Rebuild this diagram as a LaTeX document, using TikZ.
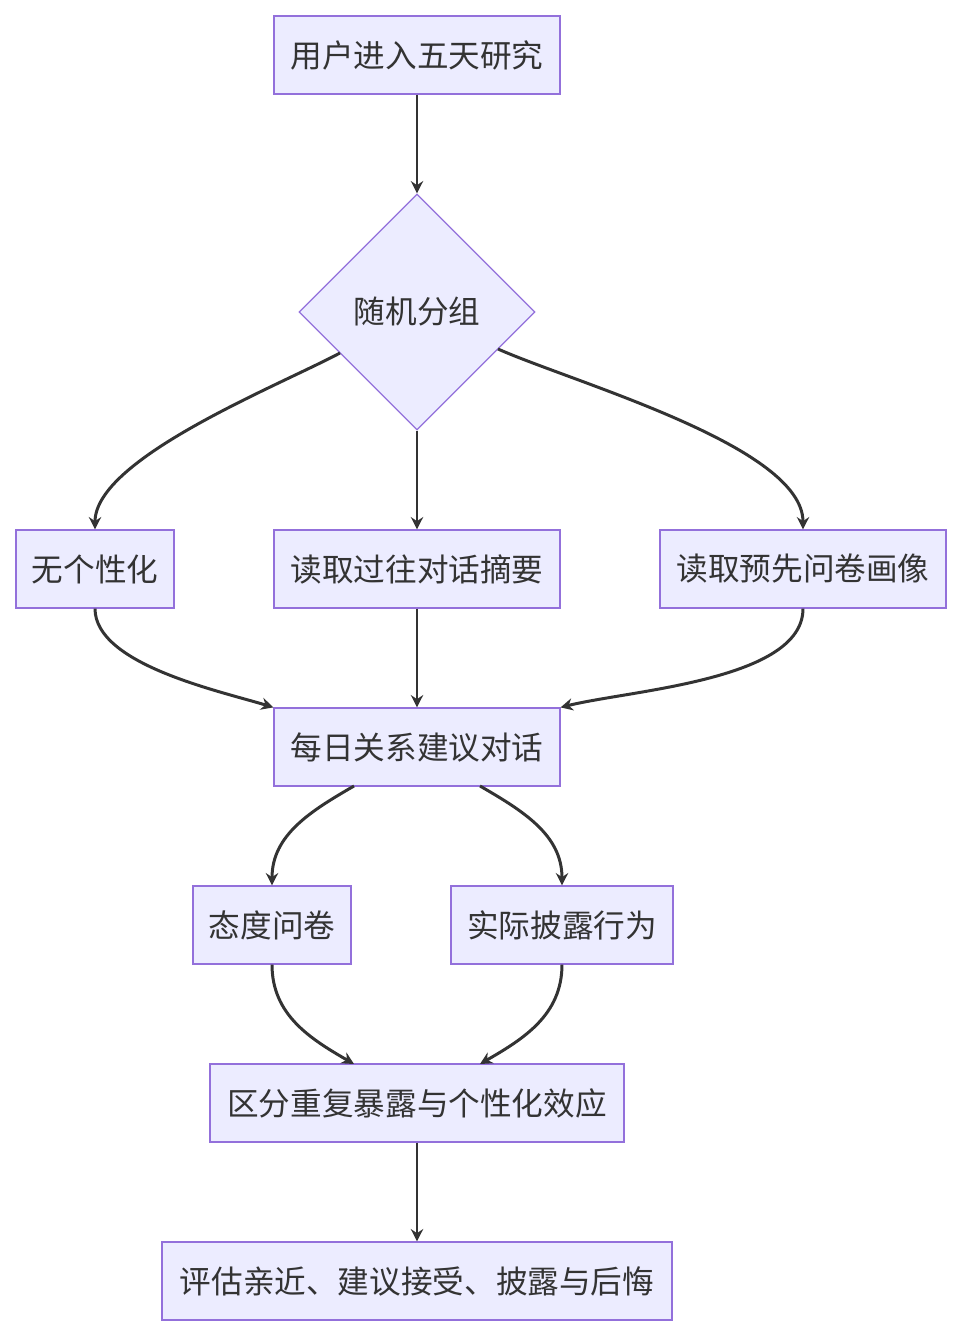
\documentclass[tikz,border=0pt]{standalone}
\usepackage{fontspec}
\newfontfamily\cjk{Noto Sans CJK SC}
\usetikzlibrary{shapes.geometric,arrows.meta}
\definecolor{boxfill}{HTML}{ECECFF}
\definecolor{boxline}{HTML}{9370DB}
\definecolor{ink}{HTML}{333333}
\tikzset{
  stage/.style={draw=boxline, fill=boxfill, line width=0.7pt, text=ink,
    font=\cjk\fontsize{18}{21}\selectfont, minimum height=1.56cm, inner sep=0pt},
  choice/.style={stage, diamond, minimum width=4.72cm, minimum height=4.72cm},
  flow/.style={draw=ink, line width=1.7pt, -{Stealth[length=7pt,width=7pt]}}
}
\begin{document}
\begin{tikzpicture}[x=0.02cm, y=-0.02cm]
  \useasboundingbox (0,0) rectangle (962,1336);

  % stages
  \node[stage, minimum width=5.72cm] (enter) at (417,55) {用户进入五天研究};
  \node[choice] (assign) at (417,312) {随机分组};
  \node[stage, minimum width=3.16cm] (none) at (95,569) {无个性化};
  \node[stage, minimum width=5.72cm] (summary) at (417,569) {读取过往对话摘要};
  \node[stage, minimum width=5.72cm] (profile) at (803,569) {读取预先问卷画像};
  \node[stage, minimum width=5.72cm] (daily) at (417,747) {每日关系建议对话};
  \node[stage, minimum width=3.16cm] (survey) at (272,925) {态度问卷};
  \node[stage, minimum width=4.44cm] (disclose) at (562,925) {实际披露行为};
  \node[stage, minimum width=8.28cm] (separate) at (417,1103) {区分重复暴露与个性化效应};
  \node[stage, minimum width=10.2cm] (assess) at (417,1281) {评估亲近、建议接受、披露与后悔};

  % connectors
  \draw[flow] (enter) -- (assign);
  \draw[flow] (340,353) to[out=208, in=90, looseness=0.6] (none.north);
  \draw[flow] (assign) -- (summary);
  \draw[flow] (498,349) to[out=-24, in=90, looseness=0.6] (profile.north);
  \draw[flow] (none.south) to[out=-90, in=163, looseness=0.7] (daily.north west);
  \draw[flow] (summary) -- (daily);
  \draw[flow] (profile.south) to[out=-90, in=14, looseness=0.7] (daily.north east);
  \draw[flow] (354,786) to[out=210, in=90] (survey.north);
  \draw[flow] (480,786) to[out=-30, in=90] (disclose.north);
  \draw[flow] (survey.south) to[out=-90, in=150] (354,1064);
  \draw[flow] (disclose.south) to[out=-90, in=30] (480,1064);
  \draw[flow] (separate) -- (assess);
\end{tikzpicture}
\end{document}
